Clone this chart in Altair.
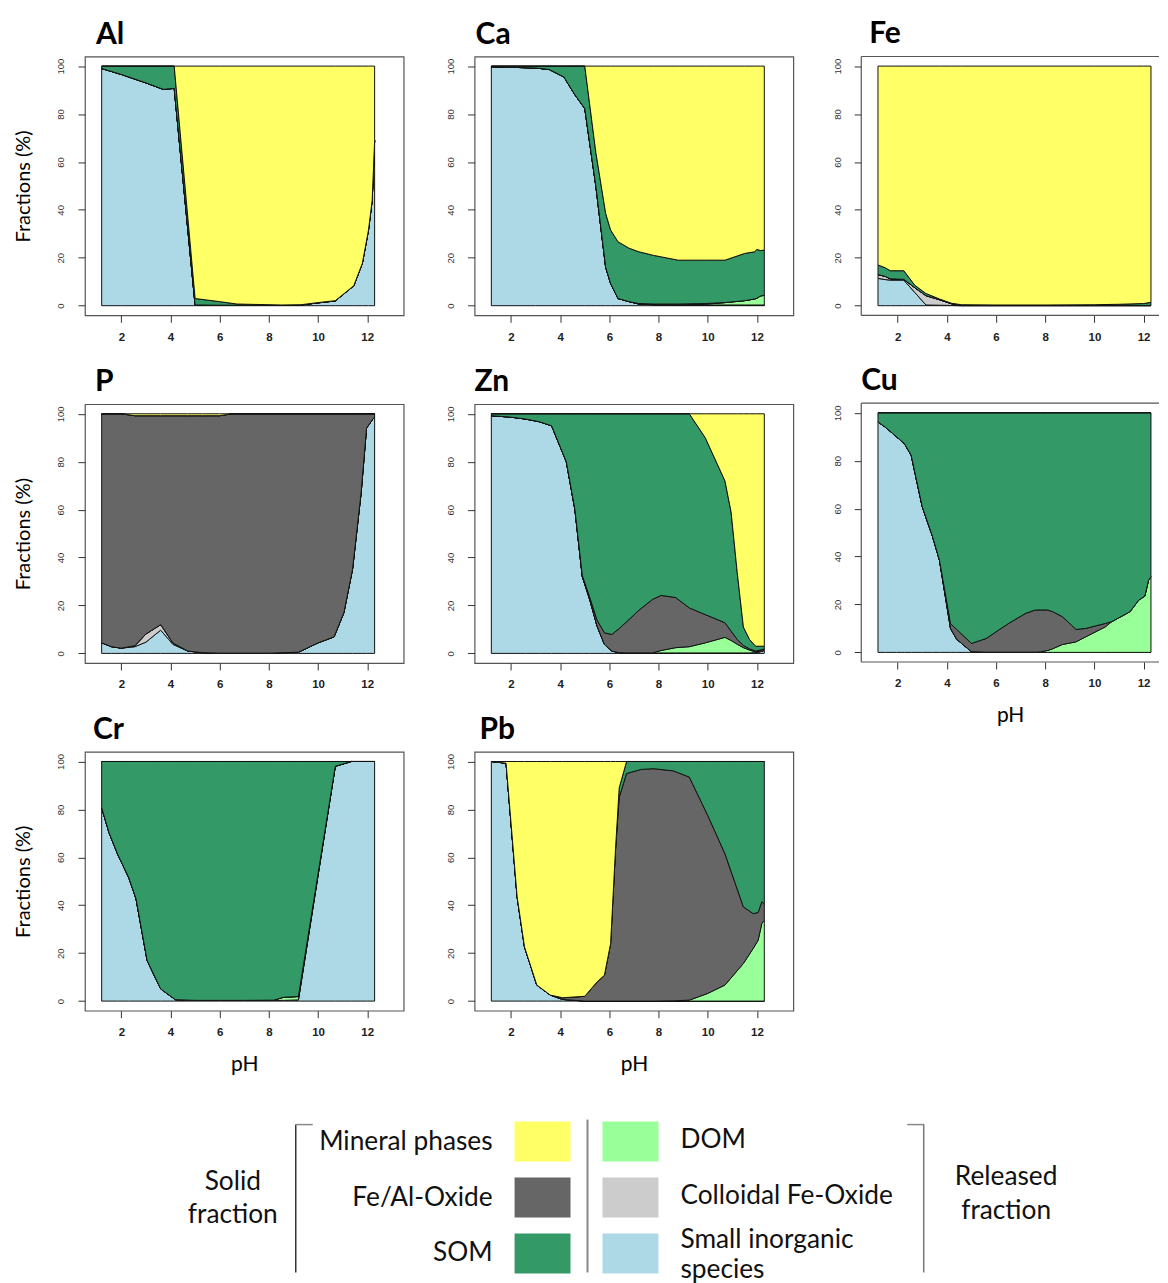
import altair as alt
import pandas as pd

SPECIES = ["Small inorganic species", "Colloidal Fe-Oxide", "DOM", "Fe/Al-Oxide", "SOM", "Mineral phases"]
COLORS = ["#ADD8E6", "#CCCCCC", "#99FF99", "#666666", "#339966", "#FFFF66"]
X_TICKS = [2, 4, 6, 8, 10, 12]
Y_TICKS = [0, 20, 40, 60, 80, 100]

# ---------------- Al ----------------
AL_PH = [1.2, 2.0, 3.0, 3.7, 4.15, 5.0, 6.0, 6.7, 7.6, 8.5, 9.3, 10.0, 10.7, 11.45, 11.8, 12.05, 12.2, 12.3]
AL_SIS = [99.0, 96.5, 93.0, 90.3, 90.7, 0.3, 0.2, 0.2, 0.2, 0.2, 0.3, 1.2, 2.0, 8.3, 17.7, 31.6, 44.0, 69.0]
AL_CFO = [0] * 18
AL_DOM = [0] * 18
AL_FEAL = [0] * 18
AL_SOM = [1.0, 3.5, 7.0, 9.7, 9.3, 2.7, 1.5, 0.5, 0.3, 0.1, 0.1, 0.1, 0.1, 0.0, 0.0, 0.0, 0.0, 0.0]
AL_MIN = [0, 0, 0, 0, 0, 97.0, 98.3, 99.3, 99.5, 99.7, 99.6, 98.7, 97.9, 91.7, 82.3, 68.4, 56.0, 31.0]

# ---------------- Ca ----------------
CA_PH = [1.2, 2.0, 3.0, 3.55, 4.15, 4.6, 5.0, 5.45, 5.85, 6.05, 6.35, 6.8, 7.2, 7.8, 8.8, 9.9, 10.7, 11.5, 11.9, 12.0, 12.15, 12.3]
CA_SIS = [99.7, 99.5, 99.2, 98.6, 95.5, 88.0, 82.3, 50.0, 16.0, 9.3, 3.0, 1.7, 0.7, 0.4, 0.3, 0.3, 0.3, 0.3, 0.3, 0.3, 0.3, 0.3]
CA_CFO = [0] * 22
CA_DOM = [0, 0, 0, 0, 0, 0, 0, 0, 0, 0, 0, 0, 0, 0, 0, 0.3, 1.0, 1.8, 2.5, 2.8, 3.8, 4.0]
CA_FEAL = [0, 0, 0, 0, 0, 0, 0, 0, 0, 0, 0, 0, 0.2, 0.3, 0.4, 0.3, 0, 0, 0, 0, 0, 0]
CA_SOM = [0.3, 0.5, 0.8, 1.4, 4.5, 12.0, 17.7, 14.0, 22.5, 22.3, 23.7, 22.3, 21.6, 20.3, 18.3, 18.1, 17.7, 19.7, 19.7, 20.4, 18.9, 18.9]
CA_MIN = [0, 0, 0, 0, 0, 0, 0, 36.0, 61.5, 68.4, 73.3, 76.0, 77.5, 79.0, 81.0, 81.0, 81.0, 78.2, 77.5, 76.5, 77.0, 76.8]

# ---------------- Fe ----------------
FE_PH = [1.2, 1.5, 1.7, 2.25, 2.7, 3.15, 3.7, 4.2, 4.6, 6.0, 8.0, 10.0, 11.0, 12.0, 12.3]
FE_SIS = [11.4, 10.9, 10.7, 10.7, 5.5, 0.3, 0.2, 0.1, 0, 0, 0, 0, 0, 0, 0]
FE_CFO = [1.6, 1.3, 0.5, 0.3, 2.0, 3.9, 2.3, 0.7, 0.3, 0.1, 0.1, 0.1, 0.1, 0.1, 0.1]
FE_DOM = [0] * 15
FE_FEAL = [0] * 15
FE_SOM = [4.0, 3.6, 3.4, 3.6, 1.0, 0.9, 0.3, 0.2, 0.1, 0.2, 0.2, 0.3, 0.5, 0.8, 1.3]
FE_MIN = [83.0, 84.2, 85.4, 85.4, 91.5, 94.9, 97.2, 99.0, 99.6, 99.7, 99.7, 99.6, 99.4, 99.1, 98.6]

# ---------------- P ----------------
P_PH = [1.2, 1.6, 2.0, 2.55, 3.0, 3.6, 4.1, 4.7, 5.3, 6.0, 6.5, 8.0, 9.2, 10.0, 10.65, 11.05, 11.4, 11.75, 11.97, 12.24, 12.3]
P_SIS = [4.4, 2.8, 2.2, 2.8, 4.7, 9.7, 3.75, 1.0, 0.3, 0.1, 0.1, 0.1, 0.5, 4.4, 6.9, 17.0, 35.0, 67.0, 94.0, 98.0, 98.5]
P_CFO = [0, 0, 0, 0.4, 3.4, 2.3, 0.6, 0, 0, 0, 0, 0, 0, 0, 0, 0, 0, 0, 0, 0, 0]
P_DOM = [0] * 21
P_FEAL = [95.6, 97.2, 97.8, 96.0, 91.1, 87.2, 94.85, 98.2, 98.9, 99.1, 99.9, 99.9, 99.5, 95.6, 93.1, 83.0, 65.0, 33.0, 6.0, 2.0, 1.5]
P_SOM = [0] * 21
P_MIN = [0, 0, 0, 0.8, 0.8, 0.8, 0.8, 0.8, 0.8, 0.8, 0, 0, 0, 0, 0, 0, 0, 0, 0, 0, 0]

# ---------------- Zn ----------------
ZN_PH = [1.2, 2.0, 2.6, 3.15, 3.65, 4.25, 4.6, 4.9, 5.2, 5.5, 5.8, 6.1, 6.4, 6.7, 7.2, 7.75, 8.1, 8.7, 9.25, 9.9, 10.7, 10.95, 11.2, 11.45, 11.7, 11.95, 12.25, 12.3]
ZN_SIS = [99.2, 98.6, 97.8, 96.7, 95.0, 80.0, 60.0, 32.0, 22.5, 11.4, 3.75, 1.0, 0.3, 0.2, 0.2, 0.2, 0.2, 0.2, 0.2, 0.2, 0.2, 0.2, 0.2, 0.2, 0.2, 0.3, 1.0, 1.5]
ZN_CFO = [0] * 28
ZN_DOM = [0, 0, 0, 0, 0, 0, 0, 0, 0, 0, 0, 0, 0, 0, 0, 0, 1.0, 2.2, 2.6, 4.2, 6.5, 5.2, 3.6, 2.2, 1.2, 0.3, 0.1, 0.1]
ZN_FEAL = [0, 0, 0, 0, 0, 0, 0, 0.5, 1.0, 2.5, 4.85, 6.9, 10.1, 13.0, 17.8, 22.3, 23.0, 20.9, 16.2, 11.8, 6.1, 3.9, 2.0, 0.9, 0.5, 0.4, 0.6, 0.4]
ZN_SOM = [0.8, 1.4, 2.2, 3.3, 5.0, 20.0, 40.0, 67.5, 76.5, 86.1, 91.4, 92.1, 89.6, 86.8, 82.0, 77.5, 75.8, 76.7, 81.0, 73.8, 59.2, 49.7, 27.9, 7.7, 3.9, 2.0, 1.3, 1.0]
ZN_MIN = [0, 0, 0, 0, 0, 0, 0, 0, 0, 0, 0, 0, 0, 0, 0, 0, 0, 0, 0, 10.0, 28.0, 41.0, 66.3, 89.0, 94.2, 97.0, 97.0, 97.0]

# ---------------- Cu ----------------
CU_PH = [1.2, 1.5, 1.95, 2.27, 2.55, 3.0, 3.42, 3.7, 4.15, 4.4, 5.0, 5.6, 6.1, 6.5, 7.2, 7.6, 7.8, 8.1, 8.3, 8.7, 9.25, 9.65, 10.45, 10.7, 11.45, 11.8, 12.05, 12.2, 12.3]
CU_SIS = [96.2, 94.0, 90.0, 87.2, 82.3, 60.8, 48.3, 38.5, 10.0, 5.5, 0.3, 0.1, 0.1, 0.1, 0.1, 0.1, 0, 0, 0, 0, 0, 0, 0, 0, 0, 0, 0, 0, 0]
CU_CFO = [0] * 29
CU_DOM = [0, 0, 0, 0, 0, 0, 0, 0, 0, 0, 0, 0, 0, 0, 0, 0, 0.2, 0.8, 1.5, 3.3, 4.4, 6.5, 10.7, 12.8, 17.0, 21.8, 23.5, 30.0, 31.6]
CU_FEAL = [0, 0, 0, 0, 0, 0, 0, 0, 2.0, 4.1, 3.45, 5.7, 9.2, 11.9, 16.2, 17.6, 17.5, 16.9, 15.5, 11.6, 5.2, 3.5, 1.4, 0, 0, 0, 0, 0, 0]
CU_SOM = [3.8, 6.0, 10.0, 12.8, 17.7, 39.2, 51.7, 61.5, 88.0, 90.4, 96.25, 94.2, 90.7, 88.0, 83.7, 82.3, 82.3, 82.3, 83.0, 85.1, 90.4, 90.0, 87.9, 87.2, 83.0, 78.2, 76.5, 70.0, 68.4]
CU_MIN = [0] * 29

# ---------------- Cr ----------------
CR_PH = [1.2, 1.5, 1.85, 2.3, 2.6, 3.05, 3.6, 4.2, 5.0, 6.0, 7.0, 8.2, 8.6, 9.2, 10.7, 11.35, 12.0, 12.3]
CR_SIS = [80.7, 70.3, 61.3, 51.6, 42.6, 16.9, 5.1, 0.6, 0.3, 0.3, 0.3, 0.3, 0.3, 0.5, 98.0, 100.0, 100.0, 100.0]
CR_CFO = [0] * 18
CR_DOM = [0, 0, 0, 0, 0, 0, 0, 0, 0, 0, 0, 0.1, 1.3, 1.4, 0, 0, 0, 0]
CR_FEAL = [0] * 18
CR_SOM = [19.3, 29.7, 38.7, 48.4, 57.4, 83.1, 94.9, 99.4, 99.7, 99.7, 99.7, 99.6, 98.4, 98.1, 2.0, 0, 0, 0]
CR_MIN = [0] * 18

# ---------------- Pb ----------------
PB_PH = [1.2, 1.8, 2.25, 2.55, 3.05, 3.6, 4.1, 5.0, 5.5, 5.8, 6.05, 6.25, 6.4, 6.7, 7.3, 7.8, 8.6, 9.25, 10.0, 10.7, 11.45, 11.85, 12.05, 12.2, 12.3]
PB_SIS = [100.0, 99.3, 43.5, 22.6, 6.7, 2.5, 0.7, 0, 0, 0, 0, 0, 0, 0, 0, 0, 0, 0, 0, 0, 0, 0, 0, 0, 0]
PB_CFO = [0] * 25
PB_DOM = [0, 0, 0, 0, 0, 0, 0, 0, 0, 0, 0, 0, 0, 0, 0, 0, 0.1, 0.4, 3.2, 6.7, 15.7, 22.0, 25.4, 32.4, 33.7]
PB_FEAL = [0, 0, 0, 0, 0, 0, 0.7, 2.0, 8.0, 10.8, 24.0, 63.0, 85.0, 95.0, 96.7, 97.0, 96.0, 93.1, 74.3, 54.8, 23.6, 14.5, 11.6, 9.1, 6.8]
PB_SOM = [0, 0, 0, 0, 0, 0, 0, 0, 0, 0, 0, 0.5, 4.0, 5.0, 3.3, 3.0, 3.9, 6.5, 22.5, 38.5, 60.7, 63.5, 63.0, 58.5, 59.5]
PB_MIN = [0, 0.7, 56.5, 77.4, 93.3, 97.5, 98.6, 98.0, 92.0, 89.2, 76.0, 36.5, 11.0, 0, 0, 0, 0, 0, 0, 0, 0, 0, 0, 0, 0]

# legend
LEG_SPECIES = ["Mineral phases", "Fe/Al-Oxide", "SOM", "DOM", "Colloidal Fe-Oxide", "Small inorganic species"]
LEG_TEXT = ["Mineral phases", "Fe/Al-Oxide", "SOM", "DOM", "Colloidal Fe-Oxide", "Small inorganic\nspecies"]
LEG_SIDE = [0, 0, 0, 1, 1, 1]
LEG_ROW = [0, 1, 2, 0, 1, 2]
GROUP_TEXT = ["Solid\nfraction", "Released\nfraction"]

FONT = "Lato"
AXFONT = "Liberation Sans"
PW, PH_ = 319, 259
ONE = pd.DataFrame({"k": [0]})


def panel(name, ph, series, ytitle, xtitle, dx, width=PW, xmax=13.48, open_right=False):
    rows = []
    for k, (sp, vals) in enumerate(zip(SPECIES, series)):
        for p, v in zip(ph, vals):
            rows.append({"ph": p, "value": v, "species": sp, "k": k})
    df = pd.DataFrame(rows)
    xaxis = alt.Axis(values=X_TICKS, grid=False, domain=False, tickSize=7, tickColor="#333",
                     labelFont=AXFONT, labelFontSize=11.5, labelFontWeight="bold", labelColor="#222",
                     labelPadding=9, title="pH" if xtitle else None, titleFont=FONT, titleFontSize=21,
                     titleFontWeight="normal", titleColor="#000", titlePadding=15)
    yaxis = alt.Axis(values=Y_TICKS, grid=False, domain=False, tickSize=7, tickColor="#333",
                     labelFont=AXFONT, labelFontSize=9.5, labelColor="#333", labelAngle=270,
                     labelAlign="center", labelBaseline="bottom", labelPadding=12,
                     title="Fractions (%)" if ytitle else None, titleFont=FONT, titleFontSize=20,
                     titleFontWeight="normal", titleColor="#000", titlePadding=22)
    area = alt.Chart(df).mark_area(stroke="#111", strokeWidth=1, opacity=1, strokeJoin="round").encode(
        x=alt.X("ph:Q", scale=alt.Scale(domain=[0.52, xmax], nice=False, zero=False), axis=xaxis),
        y=alt.Y("value:Q", stack="zero", scale=alt.Scale(domain=[-4, 104], nice=False), axis=yaxis),
        color=alt.Color("species:N", scale=alt.Scale(domain=SPECIES, range=COLORS), legend=None),
        order=alt.Order("k:Q", sort="ascending"),
    )
    layers = [area]
    if open_right:
        fc = "#555"
        layers += [
            alt.Chart(ONE).mark_rule(color=fc, strokeWidth=1.2).encode(
                x=alt.value(0), y=alt.value(0), y2=alt.value(PH_)),
            alt.Chart(ONE).mark_rule(color=fc, strokeWidth=1.2).encode(
                x=alt.value(0), x2=alt.value(width), y=alt.value(0)),
            alt.Chart(ONE).mark_rule(color=fc, strokeWidth=1.2).encode(
                x=alt.value(0), x2=alt.value(width), y=alt.value(PH_)),
        ]
        view = alt.ViewBackground(stroke=None, fill="white")
    else:
        view = alt.ViewBackground(stroke="#555", strokeWidth=1.2, fill="white")
    return alt.layer(*layers).properties(
        width=width, height=PH_, view=view,
        title=alt.TitleParams(text=name, anchor="start", frame="group", font=FONT, fontSize=30,
                              fontWeight="bold", color="#000", offset=7, dx=dx),
    )


C3W = 298
C3MAX = 0.52 + C3W * (13.48 - 0.52) / PW

al = panel("Al", AL_PH, [AL_SIS, AL_CFO, AL_DOM, AL_FEAL, AL_SOM, AL_MIN], True, False, 11)
ca = panel("Ca", CA_PH, [CA_SIS, CA_CFO, CA_DOM, CA_FEAL, CA_SOM, CA_MIN], False, False, 1)
fe = panel("Fe", FE_PH, [FE_SIS, FE_CFO, FE_DOM, FE_FEAL, FE_SOM, FE_MIN], False, False, 8, C3W, C3MAX, True)
p = panel("P", P_PH, [P_SIS, P_CFO, P_DOM, P_FEAL, P_SOM, P_MIN], True, False, 10)
zn = panel("Zn", ZN_PH, [ZN_SIS, ZN_CFO, ZN_DOM, ZN_FEAL, ZN_SOM, ZN_MIN], False, False, 0)
cu = panel("Cu", CU_PH, [CU_SIS, CU_CFO, CU_DOM, CU_FEAL, CU_SOM, CU_MIN], False, True, 0, C3W, C3MAX, True)
cr = panel("Cr", CR_PH, [CR_SIS, CR_CFO, CR_DOM, CR_FEAL, CR_SOM, CR_MIN], True, True, 8)
pb = panel("Pb", PB_PH, [PB_SIS, PB_CFO, PB_DOM, PB_FEAL, PB_SOM, PB_MIN], False, True, 5)

VSP = 22
col1 = alt.vconcat(al, p, cr, spacing=VSP)
col2 = alt.vconcat(ca, zn, pb, spacing=VSP)
col3 = alt.vconcat(fe, cu, spacing=VSP)
grid = alt.hconcat(col1, alt.hconcat(col2, col3, spacing=37), spacing=40)

# ---------------- legend ----------------
X0 = 85    # page x of legend origin (= left edge of first column's plot box)
Y0 = 1099  # page y of legend origin
LEG_W = 1000
LEG_H = 1272 - Y0
LFS = 26.3

leg_df = pd.DataFrame({"species": LEG_SPECIES, "label": LEG_TEXT, "side": LEG_SIDE, "row": LEG_ROW})
xs = alt.Scale(domain=[0, 1], range=[543 - X0, 631 - X0])
ys = alt.Scale(domain=[0, 2], range=[1141 - Y0, 1253 - Y0])
base = alt.Chart(leg_df).encode(
    x=alt.X("side:Q", scale=xs, axis=None),
    y=alt.Y("row:Q", scale=ys, axis=None),
)
sw = base.mark_point(shape="M-1.4,-1H1.4V1H-1.4Z", size=1600, filled=True, opacity=1, strokeWidth=0).encode(
    color=alt.Color("species:N", scale=alt.Scale(domain=SPECIES, range=COLORS), legend=None)
)
lt_left = base.transform_filter("datum.side == 0").mark_text(
    align="right", baseline="middle", dx=-50, font=FONT, fontSize=LFS, color="#111"
).encode(text="label:N")
lt_right = base.transform_filter("datum.side == 1 && datum.row < 2").mark_text(
    align="left", baseline="middle", dx=50, dy=-2, font=FONT, fontSize=LFS, color="#111"
).encode(text="label:N")
lt_right2 = base.transform_filter("datum.side == 1 && datum.row == 2").mark_text(
    align="left", baseline="middle", dx=50, dy=-13, font=FONT, fontSize=LFS, color="#111",
    lineBreak="\n", lineHeight=30
).encode(text="label:N")

g_solid = alt.Chart(pd.DataFrame({"t": [GROUP_TEXT[0]]})).mark_text(
    align="center", baseline="middle", font=FONT, fontSize=LFS, color="#111", lineBreak="\n", lineHeight=34
).encode(text="t:N", x=alt.value(233 - X0), y=alt.value(1181 - Y0))
g_rel = alt.Chart(pd.DataFrame({"t": [GROUP_TEXT[1]]})).mark_text(
    align="center", baseline="middle", font=FONT, fontSize=LFS, color="#111", lineBreak="\n", lineHeight=34
).encode(text="t:N", x=alt.value(1007 - X0), y=alt.value(1176 - Y0))


def rule(x, y, x2=None, y2=None, color="#444", w=1.5):
    enc = {"x": alt.value(x), "y": alt.value(y)}
    if x2 is not None:
        enc["x2"] = alt.value(x2)
    if y2 is not None:
        enc["y2"] = alt.value(y2)
    return alt.Chart(ONE).mark_rule(color=color, strokeWidth=w).encode(**enc)


rules = [
    rule(296 - X0, 1124 - Y0, y2=LEG_H, color="#333"),
    rule(296 - X0, 1124 - Y0, x2=313 - X0, color="#888"),
    rule(588 - X0, 1119 - Y0, y2=1272 - Y0, color="#888", w=2),
    rule(908 - X0, 1124 - Y0, x2=925 - X0, color="#888"),
    rule(924.5 - X0, 1124 - Y0, y2=LEG_H, color="#777"),
]

legend = alt.layer(sw, lt_left, lt_right, lt_right2, g_solid, g_rel, *rules).properties(
    width=LEG_W, height=LEG_H, view=alt.ViewBackground(stroke=None)
)

chart = alt.vconcat(grid, legend, spacing=24).properties(
    padding={"left": 5, "top": 10, "right": 0, "bottom": 0}
).configure_view(stroke=None).configure(background="white")

chart.save("out.html", embed_options={"renderer": "svg", "actions": False})
